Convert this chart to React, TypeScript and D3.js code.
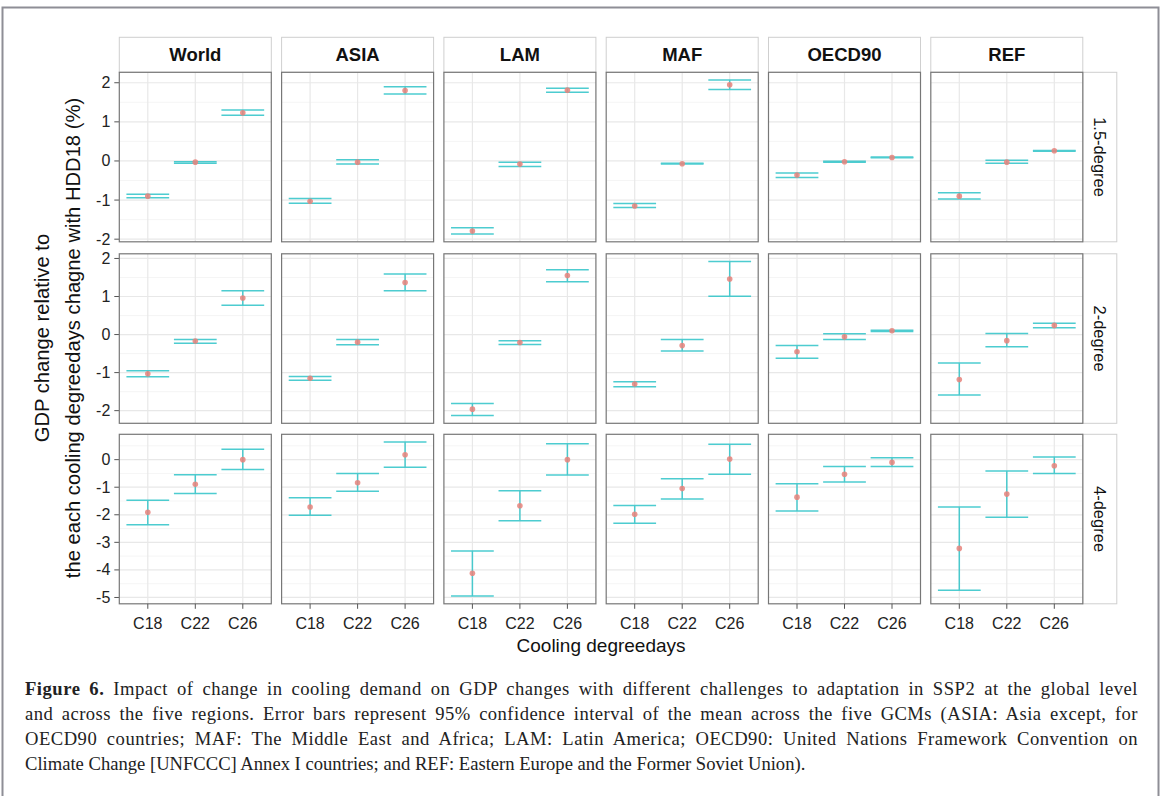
import React, { useLayoutEffect, useRef } from "react";
import * as d3 from "d3";

const regions = ["World", "ASIA", "LAM", "MAF", "OECD90", "REF"];
const scenarios = ["1.5-degree", "2-degree", "4-degree"];
const categories = ["C18", "C22", "C26"];

// mean / lower / upper per region (rows) and category (columns)
const mean15 = [[-0.90, -0.03, 1.23], [-1.03, -0.03, 1.80], [-1.79, -0.08, 1.81], [-1.15, -0.07, 1.95], [-0.36, -0.02, 0.09], [-0.90, -0.03, 0.26]];
const lower15 = [[-0.94, -0.06, 1.17], [-1.08, -0.08, 1.71], [-1.87, -0.14, 1.76], [-1.19, -0.08, 1.83], [-0.42, -0.03, 0.08], [-0.97, -0.06, 0.25]];
const upper15 = [[-0.85, -0.02, 1.30], [-0.96, 0.03, 1.90], [-1.71, -0.03, 1.86], [-1.09, -0.06, 2.07], [-0.31, -0.01, 0.10], [-0.81, 0.02, 0.27]];

const mean20 = [[-1.03, -0.17, 0.96], [-1.15, -0.20, 1.37], [-1.96, -0.21, 1.55], [-1.30, -0.29, 1.46], [-0.45, -0.06, 0.10], [-1.18, -0.16, 0.24]];
const lower20 = [[-1.11, -0.23, 0.77], [-1.20, -0.27, 1.15], [-2.13, -0.26, 1.39], [-1.37, -0.43, 1.01], [-0.62, -0.13, 0.08], [-1.59, -0.32, 0.18]];
const upper20 = [[-0.95, -0.13, 1.15], [-1.10, -0.13, 1.59], [-1.81, -0.16, 1.70], [-1.24, -0.13, 1.92], [-0.29, 0.02, 0.11], [-0.75, 0.03, 0.30]];

const mean40 = [[-1.91, -0.89, 0.00], [-1.72, -0.84, 0.18], [-4.12, -1.67, 0.00], [-1.98, -1.05, 0.02], [-1.36, -0.53, -0.10], [-3.22, -1.25, -0.22]];
const lower40 = [[-2.36, -1.23, -0.36], [-2.02, -1.15, -0.28], [-4.95, -2.22, -0.56], [-2.31, -1.43, -0.53], [-1.86, -0.81, -0.25], [-4.74, -2.09, -0.50]];
const upper40 = [[-1.47, -0.55, 0.38], [-1.38, -0.50, 0.64], [-3.31, -1.13, 0.58], [-1.66, -0.69, 0.56], [-0.87, -0.25, 0.07], [-1.72, -0.41, 0.10]];

const means = [mean15, mean20, mean40];
const lowers = [lower15, lower20, lower40];
const uppers = [upper15, upper20, upper40];

const yTitle1 = "GDP change relative to";
const yTitle2 = "the each cooling degreedays chagne with HDD18 (%)";
const xTitle = "Cooling degreedays";

const caption = [
  { bold: "Figure 6.", text: " Impact of change in cooling demand on GDP changes with different challenges to adaptation in SSP2 at the global level", full: true },
  { bold: "", text: "and across the five regions. Error bars represent 95% confidence interval of the mean across the five GCMs (ASIA: Asia except, for", full: true },
  { bold: "", text: "OECD90 countries; MAF: The Middle East and Africa; LAM: Latin America; OECD90: United Nations Framework Convention on", full: true },
  { bold: "", text: "Climate Change [UNFCCC] Annex I countries; and REF: Eastern Europe and the Former Soviet Union).", full: false },
];

const FONT = "'Liberation Sans', Arial, sans-serif";
const SERIF = "'Liberation Serif', 'Times New Roman', serif";
const BAR = "#2ec4c8";
const PT = "#e8837b";
const CAP_W = 1113;

export default function App() {
  const capRef = useRef<SVGGElement | null>(null);

  useLayoutEffect(() => {
    if (!capRef.current) return;
    d3.select(capRef.current)
      .selectAll<SVGTextElement, unknown>("text.full")
      .each(function () {
        const el = this;
        el.style.wordSpacing = "0px";
        el.style.letterSpacing = "0px";
        const len = el.getComputedTextLength();
        const txt = el.textContent || "";
        const spaces = txt.split(" ").length - 1;
        const chars = txt.length;
        if (spaces > 0 && len < CAP_W) {
          const extra = CAP_W - len;
          const ls = (extra * 0.45) / chars;
          const ws = (extra - ls * chars) / spaces;
          el.style.letterSpacing = `${ls}px`;
          el.style.wordSpacing = `${ws}px`;
        }
      });
  }, []);

  const panelW = 152;
  const panelH = 169.5;
  const colStep = 162.3;
  const left0 = 119.3;
  const rowTops = [72.3, 253.8, 434.3];
  const stripTop = 37.3;
  const stripRightW = 34;

  const panelsRight = left0 + colStep * 5 + panelW;

  const rows = scenarios.map((sc, r) => {
    const vals: number[] = [];
    lowers[r].forEach((a) => vals.push(...a));
    uppers[r].forEach((a) => vals.push(...a));
    const [mn, mx] = d3.extent(vals) as [number, number];
    const pad = (mx - mn) * 0.05;
    const top = rowTops[r];
    const y = d3.scaleLinear().domain([mn - pad, mx + pad]).range([top + panelH, top]);
    const ticks = y.ticks(5);
    const step = ticks[1] - ticks[0];
    const minors: number[] = [];
    const [d0, d1] = y.domain();
    for (let t = ticks[0] - step / 2; t <= d1; t += step) {
      if (t >= d0) minors.push(t);
    }
    return { sc, r, y, ticks, minors, top };
  });

  return (
    <svg width={1164} height={796} style={{ position: "absolute", left: 0, top: 0, background: "#fff" }}>
      <rect x={2.5} y={7.5} width={1156} height={820} fill="none" stroke="#8e8e96" strokeWidth={2} />

      {/* strips top */}
      {regions.map((reg, c) => {
        const x0 = left0 + c * colStep;
        return (
          <g key={"s" + reg}>
            <rect x={x0} y={stripTop} width={panelW} height={rowTops[0] - stripTop} fill="#fff" stroke="#cfcfcf" strokeWidth={1} />
            <text x={x0 + panelW / 2} y={stripTop + 24} textAnchor="middle" fontFamily={FONT} fontWeight="bold" fontSize={18.5} fill="#111">
              {reg}
            </text>
          </g>
        );
      })}

      {rows.map(({ sc, r, y, ticks, minors, top }) => (
        <g key={sc}>
          {/* right strip */}
          <rect x={panelsRight} y={top} width={stripRightW} height={panelH} fill="#fff" stroke="#cfcfcf" strokeWidth={1} />
          <text
            transform={`translate(${panelsRight + stripRightW / 2 - 6},${top + panelH / 2}) rotate(90)`}
            textAnchor="middle"
            fontFamily={FONT}
            fontSize={16.5}
            fill="#111"
          >
            {sc}
          </text>

          {/* y axis */}
          {ticks.map((t) => (
            <g key={"yt" + t}>
              <line x1={left0 - 5} x2={left0} y1={y(t)} y2={y(t)} stroke="#555" strokeWidth={1} />
              <text x={left0 - 9} y={y(t) + 5.5} textAnchor="end" fontFamily={FONT} fontSize={16} fill="#222">
                {d3.format("d")(t).replace("−", "-")}
              </text>
            </g>
          ))}

          {regions.map((reg, c) => {
            const x0 = left0 + c * colStep;
            const x = d3.scalePoint<string>().domain(categories).range([x0, x0 + panelW]).padding(0.6);
            const hw = x.step() * 0.45;
            return (
              <g key={sc + reg}>
                <rect x={x0} y={top} width={panelW} height={panelH} fill="#fff" />
                {minors.map((t) => (
                  <line key={"mn" + t} x1={x0} x2={x0 + panelW} y1={y(t)} y2={y(t)} stroke="#f3f3f3" strokeWidth={0.8} />
                ))}
                {ticks.map((t) => (
                  <line key={"mj" + t} x1={x0} x2={x0 + panelW} y1={y(t)} y2={y(t)} stroke="#e8e8e8" strokeWidth={1.2} />
                ))}
                {categories.map((cat) => (
                  <line key={"vx" + cat} x1={x(cat)!} x2={x(cat)!} y1={top} y2={top + panelH} stroke="#e8e8e8" strokeWidth={1.2} />
                ))}
                {categories.map((cat, k) => {
                  const cx = x(cat)!;
                  const lo = lowers[r][c][k];
                  const hi = uppers[r][c][k];
                  const m = means[r][c][k];
                  return (
                    <g key={"eb" + cat}>
                      <g stroke={BAR} strokeWidth={1.5} opacity={0.85}>
                        <line x1={cx} x2={cx} y1={y(hi)} y2={y(lo)} />
                        <line x1={cx - hw} x2={cx + hw} y1={y(hi)} y2={y(hi)} />
                        <line x1={cx - hw} x2={cx + hw} y1={y(lo)} y2={y(lo)} />
                      </g>
                      <circle cx={cx} cy={y(m)} r={2.8} fill={PT} opacity={0.85} />
                    </g>
                  );
                })}
                <rect x={x0} y={top} width={panelW} height={panelH} fill="none" stroke="#777" strokeWidth={1.2} />
                {r === 2 &&
                  categories.map((cat) => (
                    <g key={"xt" + cat}>
                      <line x1={x(cat)!} x2={x(cat)!} y1={top + panelH} y2={top + panelH + 5} stroke="#555" strokeWidth={1} />
                      <text x={x(cat)!} y={top + panelH + 25} textAnchor="middle" fontFamily={FONT} fontSize={16} fill="#222">
                        {cat}
                      </text>
                    </g>
                  ))}
              </g>
            );
          })}
        </g>
      ))}

      {/* axis titles */}
      <text x={(left0 + panelsRight) / 2} y={652} textAnchor="middle" fontFamily={FONT} fontSize={19} fill="#111">
        {xTitle}
      </text>
      <g transform={`translate(49,${(rowTops[0] + rowTops[2] + panelH) / 2}) rotate(-90)`}>
        <text x={0} y={0} textAnchor="middle" fontFamily={FONT} fontSize={20.2} fill="#111">
          {yTitle1}
        </text>
        <text x={0} y={31} textAnchor="middle" fontFamily={FONT} fontSize={20.2} fill="#111">
          {yTitle2}
        </text>
      </g>

      {/* caption */}
      <g ref={capRef}>
        {caption.map((ln, i) => (
          <text
            key={"cap" + i}
            className={ln.full ? "full" : "last"}
            x={25}
            y={695 + i * 25}
            fontFamily={SERIF}
            fontSize={18.6}
            fill="#222"
          >
            {ln.bold && <tspan fontWeight="bold">{ln.bold}</tspan>}
            {ln.text}
          </text>
        ))}
      </g>
    </svg>
  );
}
